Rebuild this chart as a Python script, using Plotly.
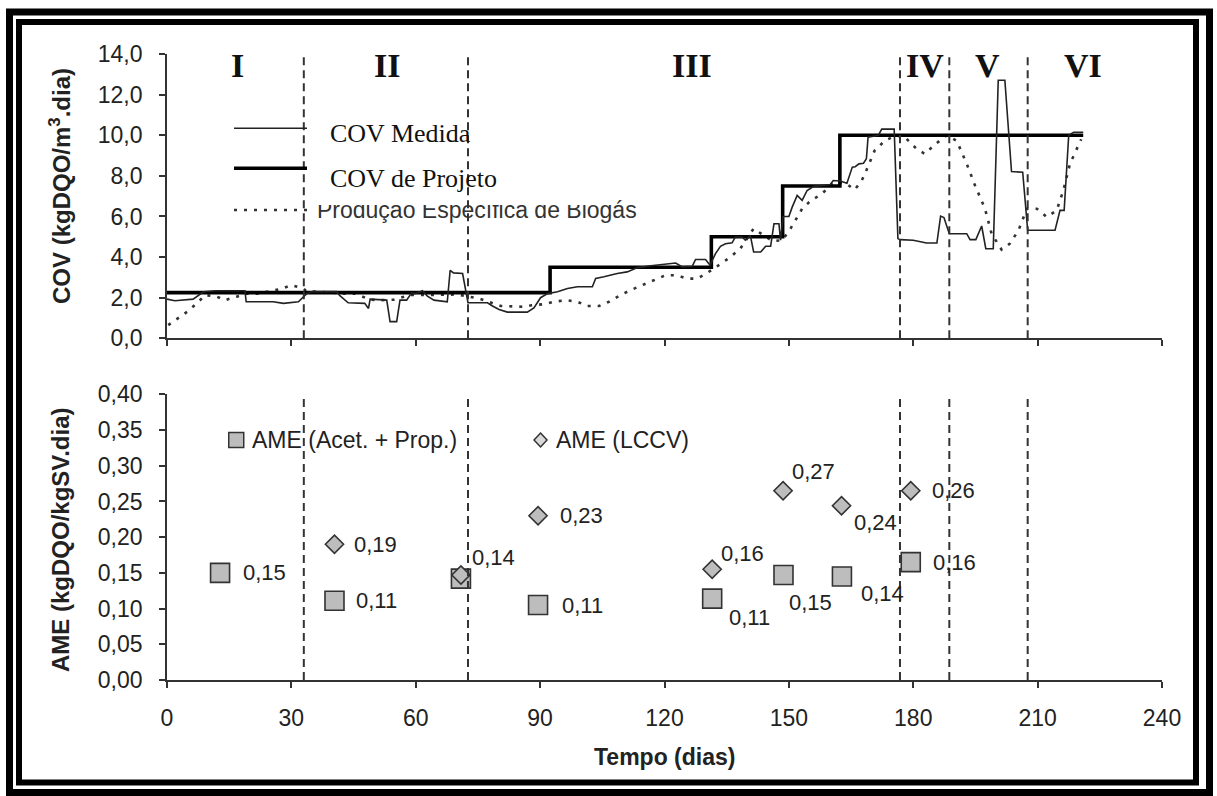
import plotly.graph_objects as go

# ---------------- data ----------------
# COV Medida (thin line), day / kgDQO/m3.dia
med_days = [0, 1.9, 6.3, 8.8, 11.6, 18.8, 19.1, 25.6, 28.1, 31.7, 33.7, 35, 40.9, 41.7, 43.7, 47.7,
            48.6, 49, 53, 53.8, 55.4, 56.2, 57.8, 59, 60, 61.6, 62.8, 64.4, 67.6, 68.3, 69.1, 71.3,
            72.6, 77.3, 78.5, 80.1, 82.1, 86.9, 88.5, 90.1, 91.8, 94.2, 96.6, 99, 102.6, 103.4,
            105.4, 108.6, 111, 113.5, 116.7, 120, 122.7, 124.3, 126.7, 127.5, 129.9, 131, 132.3,
            133.5, 134.7, 136.3, 137.1, 138.7, 139.5, 140.7, 141.5, 143.2, 144.4, 145.6, 146.4,
            147.6, 148, 148.6, 150, 150.8, 152, 153.2, 154.4, 156, 160, 160.7, 162.4, 164, 165.3,
            166, 166.9, 168, 168.7, 169.1, 171.6, 172.4, 175.4, 176.3, 176.8, 180, 183.2, 185.7,
            186.6, 187.4, 188.7, 192.9, 193.7, 195.1, 196.5, 197.5, 199.3, 200.5, 202.1, 203.7,
            206.4, 207.6, 214.2, 215.4, 216.4, 217.5, 218.7, 221]
med_vals = [1.93, 1.85, 1.93, 2.29, 2.34, 2.34, 1.80, 1.80, 1.72, 1.80, 2.20, 2.30, 2.30, 2.10, 1.75, 1.72,
            1.47, 1.93, 1.88, 0.82, 0.82, 1.88, 1.88, 2.24, 2.20, 2.34, 2.08, 1.88, 1.80, 3.35, 3.22, 3.19,
            1.75, 1.75, 1.59, 1.42, 1.29, 1.29, 1.50, 2.00, 2.20, 2.29, 2.45, 2.54, 2.54, 2.95,
            3.03, 3.19, 3.27, 3.48, 3.57, 3.65, 3.71, 3.52, 3.55, 3.88, 3.88, 3.60, 4.17,
            4.53, 4.66, 4.70, 4.99, 4.99, 4.83, 5.07, 4.25, 4.25, 4.53, 4.53, 5.64,
            5.64, 4.83, 6.00, 6.00, 6.46, 7.04, 6.79, 7.28, 7.48, 7.57, 7.77, 7.75, 7.64, 8.43,
            8.45, 8.59, 8.62, 8.84, 9.90, 10.00, 10.30, 10.30, 4.91, 4.86, 4.83, 4.69, 4.69,
            6.02, 5.95, 5.15, 5.15, 4.86, 4.86, 5.53, 4.41, 4.41, 12.71, 12.71, 8.21,
            8.18, 5.32, 5.32, 6.30, 6.30, 10.00, 10.15, 10.15]

# COV de Projeto (thick step line)
proj_days = [0, 92.4, 131.3, 148.5, 162.3, 221]
proj_vals = [2.25, 3.5, 5.0, 7.5, 10.0, 10.0]

# Produção Específica de Biogás (dotted)
bio_days = [0.3, 2.7, 5.1, 7.6, 9.2, 12, 14, 16.8, 19.2, 22, 27.3, 30, 32.9, 33.7, 36, 43, 45.4, 49,
            51.4, 54.6, 57.8, 58.8, 63.6, 70, 75.3, 80.5, 86, 88, 91, 93.4, 96.2, 99, 101.4, 104.2,
            106.6, 109.4, 111.8, 114.7, 117.5, 120.3, 123, 125.5, 127.9, 130.3, 133.1, 135.9, 138.3,
            141.5, 146, 148.4, 150.4, 151.6, 153.2, 155.2, 158, 160.8, 164, 165.8, 167.4, 168.5,
            170.7, 173.2, 176, 178.4, 180.8, 182.8, 185.2, 188.1, 190.5, 192.9, 194.9, 197.3, 198.9,
            201.3, 203.3, 205.4, 207.4, 209.8, 212.2, 214.6, 216.2, 217.8, 219.8, 220.5]
bio_vals = [0.65, 0.98, 1.34, 1.80, 2.13, 2.05, 1.88, 2.05, 2.20, 2.20, 2.42, 2.62, 2.45, 2.30, 2.30, 2.20, 2.20, 1.90,
            1.88, 1.90, 2.05, 2.13, 2.13, 2.16, 1.96, 1.59, 1.55, 1.63, 1.68, 1.80, 1.88, 1.80, 1.59, 1.59,
            1.80, 2.13, 2.37, 2.62, 2.90, 3.11, 3.10, 2.94, 2.94, 3.22, 3.60, 4.00, 4.42,
            5.40, 4.79, 4.83, 5.40, 5.81, 6.38, 6.76, 7.12, 7.69, 7.60, 7.31, 7.69, 8.18,
            9.25, 9.74, 10.00, 9.82, 9.33, 9.08, 9.54, 10.00, 9.72, 8.59, 7.53, 6.38, 5.15,
            4.37, 4.66, 5.32, 6.38, 6.38, 5.97, 6.30, 7.28, 8.59, 9.49, 9.80]

# AME (Acet. + Prop.) squares
sq_days = [12.8, 40.4, 70.9, 89.5, 131.5, 148.7, 162.8, 179.4]
sq_vals = [0.150, 0.111, 0.142, 0.105, 0.114, 0.147, 0.145, 0.165]
sq_labels = ["0,15", "0,11", "", "0,11", "0,11", "0,15", "0,14", "0,16"]

# AME (LCCV) diamonds
di_days = [40.4, 70.9, 89.5, 131.5, 148.6, 162.7, 179.4]
di_vals = [0.190, 0.147, 0.230, 0.155, 0.265, 0.244, 0.265]
di_labels = ["0,19", "0,14", "0,23", "0,16", "0,27", "0,24", "0,26"]

# phase boundaries and labels
phase_bounds = [33, 72.6, 176.8, 188.7, 207.6]
phase_names = ["I", "II", "III", "IV", "V", "VI"]
phase_label_x = [17, 53, 126.6, 182.8, 197.8, 221]

x_ticks = [0, 30, 60, 90, 120, 150, 180, 210, 240]
cov_ticks = [0, 2, 4, 6, 8, 10, 12, 14]
ame_ticks = [0, 0.05, 0.10, 0.15, 0.20, 0.25, 0.30, 0.35, 0.40]

# ---------------- layout geometry (pixels) ----------------
W, H = 1217, 796
L, R, T, B = 167, 55, 54, 116
PW, PH = W - L - R, H - T - B


def px(xp):
    return (xp - L) / PW


def py(yp):
    return (H - B - yp) / PH


SANS = "Liberation Sans"
SERIF = "Liberation Serif"
INK = "#222222"

# label offsets (pixels, from marker centre to label start) for value annotations
sq_off = [(21, 0), (20, 0), (0, 0), (22, 0), (15, -19), (4, -27), (17, -17), (20, 0)]
di_off = [(18, 0), (9, 18), (20, 0), (7, 16), (7, 19), (10, -17), (19, 0)]

fig = go.Figure()

fig.add_trace(go.Scatter(x=bio_days, y=bio_vals, mode="lines", xaxis="x", yaxis="y",
                         line=dict(color="#333333", width=2.6, dash="3px,7px"),
                         showlegend=False, hoverinfo="skip"))
fig.add_trace(go.Scatter(x=proj_days, y=proj_vals, mode="lines", xaxis="x", yaxis="y",
                         line=dict(color="#000000", width=3.6, shape="hv"),
                         showlegend=False, hoverinfo="skip"))
fig.add_trace(go.Scatter(x=med_days, y=med_vals, mode="lines", xaxis="x", yaxis="y",
                         line=dict(color="#222222", width=1.6),
                         showlegend=False, hoverinfo="skip"))

# legend text for the dotted series (as trace so it can be partially masked)
leg3_day = (317 - L) / PW * 240
leg3_val = (338.3 - 212) / 20.36
fig.add_trace(go.Scatter(x=[leg3_day], y=[leg3_val], mode="text", xaxis="x", yaxis="y",
                         text=["Produção Específica de Biogás"], textposition="middle right",
                         textfont=dict(family=SANS, size=23, color="#333333"),
                         showlegend=False, hoverinfo="skip"))

fig.add_trace(go.Scatter(x=sq_days, y=sq_vals, mode="markers", xaxis="x2", yaxis="y2",
                         marker=dict(symbol="square", size=19, color="#bdbdbd",
                                     line=dict(color="#333333", width=1.6)),
                         showlegend=False, hoverinfo="skip"))
fig.add_trace(go.Scatter(x=di_days, y=di_vals, mode="markers", xaxis="x2", yaxis="y2",
                         marker=dict(symbol="diamond", size=14, color="#bdbdbd",
                                     line=dict(color="#333333", width=1.6)),
                         showlegend=False, hoverinfo="skip"))

annotations = []
for d, v, lab, (dx, dy) in zip(sq_days, sq_vals, sq_labels, sq_off):
    if lab:
        annotations.append(dict(x=d, y=v, xref="x2", yref="y2", text=lab, showarrow=False,
                                xanchor="left", yanchor="middle", xshift=dx, yshift=dy,
                                font=dict(family=SANS, size=22, color=INK)))
for d, v, lab, (dx, dy) in zip(di_days, di_vals, di_labels, di_off):
    annotations.append(dict(x=d, y=v, xref="x2", yref="y2", text=lab, showarrow=False,
                            xanchor="left", yanchor="middle", xshift=dx, yshift=dy,
                            font=dict(family=SANS, size=22, color=INK)))

for name, xd in zip(phase_names, phase_label_x):
    annotations.append(dict(x=xd, y=13.45, xref="x", yref="y", text=name, showarrow=False,
                            xanchor="center", yanchor="middle",
                            font=dict(family=SERIF, size=34, color="#111111", weight="bold")))

# top legend texts
annotations.append(dict(x=px(328), y=py(133), xref="paper", yref="paper", text="COV Medida",
                        showarrow=False, xanchor="left", yanchor="middle",
                        font=dict(family=SERIF, size=26, color="#111111")))
annotations.append(dict(x=px(328), y=py(178), xref="paper", yref="paper", text="COV de Projeto",
                        showarrow=False, xanchor="left", yanchor="middle",
                        font=dict(family=SERIF, size=26, color="#111111")))

# bottom legend texts
annotations.append(dict(x=20.1, y=0.336, xref="x2", yref="y2", text="AME (Acet. + Prop.)",
                        showarrow=False, xanchor="left", yanchor="middle",
                        font=dict(family=SANS, size=23, color=INK)))
annotations.append(dict(x=93.3, y=0.336, xref="x2", yref="y2", text="AME (LCCV)",
                        showarrow=False, xanchor="left", yanchor="middle",
                        font=dict(family=SANS, size=23, color=INK)))

# axis titles
annotations.append(dict(x=px(60), y=py(186), xref="paper", yref="paper",
                        text="COV (kgDQO/m<sup>3</sup>.dia)", textangle=-90, showarrow=False,
                        xanchor="center", yanchor="middle",
                        font=dict(family=SANS, size=24, color=INK, weight="bold")))
annotations.append(dict(x=px(60), y=py(540), xref="paper", yref="paper",
                        text="AME (kgDQO/kgSV.dia)", textangle=-90, showarrow=False,
                        xanchor="center", yanchor="middle",
                        font=dict(family=SANS, size=24, color=INK, weight="bold")))
annotations.append(dict(x=0.5, y=py(757), xref="paper", yref="paper", text="Tempo (dias)",
                        showarrow=False, xanchor="center", yanchor="middle",
                        font=dict(family=SANS, size=23, color=INK, weight="bold")))

shapes = []
# white mask clipping top of the dotted-series legend label
shapes.append(dict(type="rect", xref="paper", yref="paper", x0=px(314), x1=px(600),
                   y0=py(205), y1=py(188), fillcolor="white", line=dict(width=0), layer="above"))
# phase boundaries
for b in phase_bounds:
    shapes.append(dict(type="line", xref="x", yref="y", x0=b, x1=b, y0=0, y1=14.2,
                       line=dict(color="#333333", width=2, dash="8px,5px"), layer="above"))
    shapes.append(dict(type="line", xref="x2", yref="y2", x0=b, x1=b, y0=0, y1=0.405,
                       line=dict(color="#333333", width=2, dash="8px,5px"), layer="above"))
# top legend line samples
shapes.append(dict(type="line", xref="paper", yref="paper", x0=px(234), x1=px(307),
                   y0=py(128.3), y1=py(128.3), line=dict(color="#222222", width=1.6)))
shapes.append(dict(type="line", xref="paper", yref="paper", x0=px(234), x1=px(307),
                   y0=py(168.3), y1=py(168.3), line=dict(color="#000000", width=3.6)))
shapes.append(dict(type="line", xref="paper", yref="paper", x0=px(234), x1=px(307),
                   y0=py(210), y1=py(210), line=dict(color="#333333", width=2.6, dash="3px,7px")))
# bottom legend markers
shapes.append(dict(type="rect", xref="x2", yref="y2", xsizemode="pixel", ysizemode="pixel",
                   xanchor=16.7, yanchor=0.336, x0=-7.5, x1=7.5, y0=-7.5, y1=7.5,
                   fillcolor="#bdbdbd", line=dict(color="#333333", width=1.5)))
shapes.append(dict(type="path", xref="x2", yref="y2", xsizemode="pixel", ysizemode="pixel",
                   xanchor=90.1, yanchor=0.336, path="M0,7 L6.5,0 L0,-7 L-6.5,0 Z",
                   fillcolor="#d9d9d9", line=dict(color="#333333", width=1.5)))
# double frame
shapes.append(dict(type="rect", xref="paper", yref="paper", x0=px(9.5), x1=px(1209.5),
                   y0=py(12), y1=py(792.5), line=dict(color="#000000", width=7), fillcolor="rgba(0,0,0,0)"))
shapes.append(dict(type="rect", xref="paper", yref="paper", x0=px(19), x1=px(1196),
                   y0=py(22), y1=py(782.5), line=dict(color="#000000", width=6), fillcolor="rgba(0,0,0,0)"))

axis_common = dict(showgrid=False, zeroline=False, showline=True, linecolor="#333333", linewidth=1.8,
                   ticks="outside", ticklen=6, tickwidth=1.5, tickcolor="#333333",
                   tickfont=dict(family=SANS, size=23, color=INK))

fig.update_layout(
    width=W, height=H,
    margin=dict(l=L, r=R, t=T, b=B),
    paper_bgcolor="white", plot_bgcolor="white",
    separators=",.",
    showlegend=False,
    xaxis=dict(domain=[0, 1], anchor="y", range=[0, 240], tickvals=x_ticks, showticklabels=False,
               **axis_common),
    yaxis=dict(domain=[py(338.3), 1], anchor="x", range=[0, 14], tickvals=cov_ticks,
               tickformat=".1f", ticklabelstandoff=12, **axis_common),
    xaxis2=dict(domain=[0, 1], anchor="y2", range=[0, 240], tickvals=x_ticks,
                ticklabelstandoff=10, **axis_common),
    yaxis2=dict(domain=[0, py(394.3)], anchor="x2", range=[0, 0.40], tickvals=ame_ticks,
                tickformat=".2f", ticklabelstandoff=12, **axis_common),
    annotations=annotations,
    shapes=shapes,
)

fig.write_html("out.html", config={"displayModeBar": False},
               post_script="document.body.style.margin='0px';")
